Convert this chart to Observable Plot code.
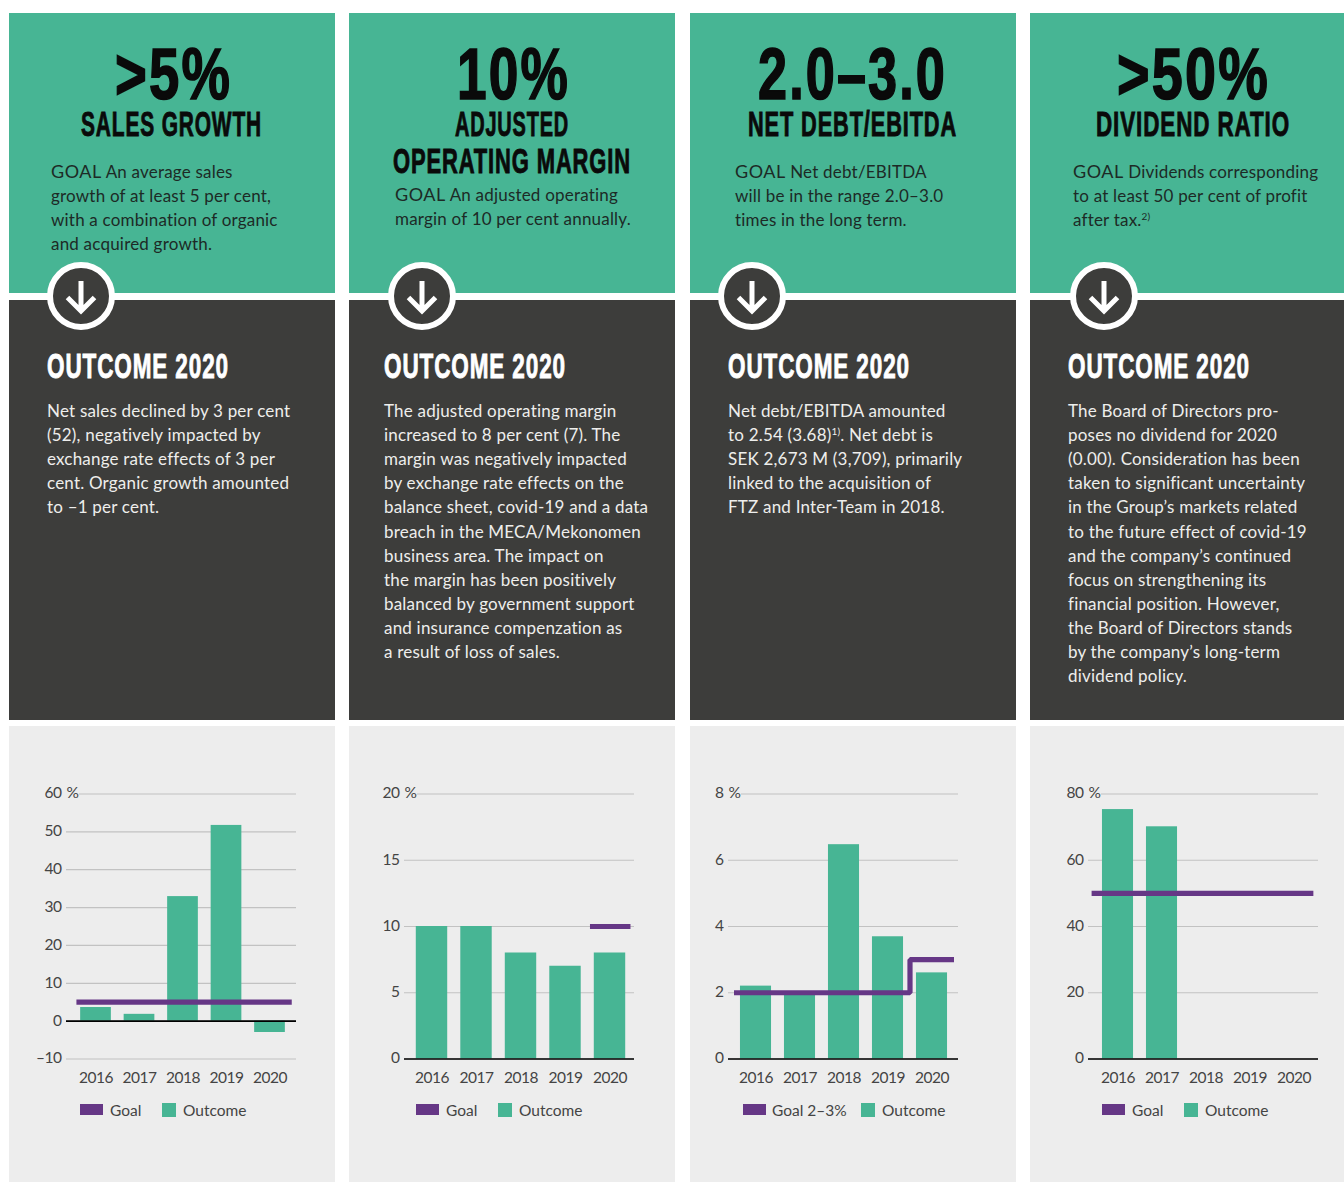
<!DOCTYPE html>
<html><head><meta charset="utf-8">
<script src="https://cdn.jsdelivr.net/npm/d3@7"></script>
<script src="https://cdn.jsdelivr.net/npm/@observablehq/plot@0.6"></script>
<style>
html,body{margin:0;padding:0;background:#fff;}
#page{position:relative;width:1344px;height:1182px;overflow:hidden;font-family:Lato,sans-serif;}
.box{position:absolute;}
.t{position:absolute;white-space:nowrap;}
.head{font-family:"Liberation Sans Narrow","Liberation Sans",sans-serif;font-weight:700;color:#0a0a0a;transform-origin:0 0;line-height:.8;letter-spacing:.04em;}
.body{font-size:17px;line-height:24px;font-weight:400;letter-spacing:.2px;}
.g{font-size:18px;letter-spacing:.5px;line-height:0;}
.leg{font-size:15.5px;line-height:16px;color:#444;font-weight:400;}
sup{font-size:10px;line-height:0;vertical-align:baseline;position:relative;top:-6px;}
svg{display:block}
</style></head><body><div id="page"></div>
<script>
const years = [2016, 2017, 2018, 2019, 2020];
const salesGrowth = [3.6, 1.8, 32.9, 51.7, -3];
const adjustedMargin = [10, 10, 8, 7, 8];
const netDebtEbitda = [2.2, 2.0, 6.47, 3.69, 2.6];
const dividendRatio = [75.3, 70.1, null, null, null];
const salesGoalX = [2015.55, 2020.5], salesGoalY = [5, 5];
const marginGoalX = [2019.55, 2020.46], marginGoalY = [10, 10];
const debtGoalX = [2015.5, 2019.5, 2019.5, 2020.5], debtGoalY = [2, 2, 3, 3];
const dividendGoalX = [2015.4, 2020.44], dividendGoalY = [50, 50];
const salesTicks = [-10, 0, 10, 20, 30, 40, 50, 60];
const marginTicks = [0, 5, 10, 15, 20];
const debtTicks = [0, 2, 4, 6, 8];
const dividendTicks = [0, 20, 40, 60, 80];

const GREEN = "#47b594", DARK = "#3d3d3b", LIGHT = "#ededed", PURPLE = "#663786";

const panels = [
 {left: 9, width: 326, circle: 81, values: salesGrowth, goalX: salesGoalX, goalY: salesGoalY, ticks: salesTicks,
  domain: [-10, 60], mL: 57, mR: 39, range: [86.5, 260.5], inset: 13,
  heads: [[">5%", 115, 232, 47, 53], ["SALES GROWTH", 81, 262, 112, 25]],
  goalLeft: 51, goalTop: 160, goalText: ["<span class=g>GOAL</span> An average sales", "growth of at least 5 per cent,", "with a combination of organic", "and acquired growth."],
  outLeft: 47, outcome: ["Net sales declined by 3 per cent", "(52), negatively impacted by", "exchange rate effects of 3 per", "cent. Organic growth amounted", "to –1 per cent."],
  legend: {sw: 80, goal: 110, sq: 162, out: 183, label: "Goal"}},
 {left: 349, width: 326, circle: 421.5, values: adjustedMargin, goalX: marginGoalX, goalY: marginGoalY, ticks: marginTicks,
  domain: [0, 20], mL: 55, mR: 41, range: [82.5, 260.5], inset: 13,
  heads: [["10%", 457, 570, 47, 53], ["ADJUSTED", 455, 569, 112, 25], ["OPERATING MARGIN", 393, 631, 149, 25]],
  goalLeft: 395, goalTop: 183, goalText: ["<span class=g>GOAL</span> An adjusted operating", "margin of 10 per cent annually."],
  outLeft: 384, outcome: ["The adjusted operating margin", "increased to 8 per cent (7). The", "margin was negatively impacted", "by exchange rate effects on the", "balance sheet, covid-19 and a data", "breach in the MECA/Mekonomen", "business area. The impact on", "the margin has been positively", "balanced by government support", "and insurance compenzation as", "a result of loss of sales."],
  legend: {sw: 416, goal: 446, sq: 498, out: 519, label: "Goal"}},
 {left: 690, width: 326, circle: 752, values: netDebtEbitda, goalX: debtGoalX, goalY: debtGoalY, ticks: debtTicks,
  domain: [0, 8], mL: 38, mR: 58, range: [65.5, 241.5], inset: 13,
  heads: [["2.0–3.0", 758, 947, 47, 53], ["NET DEBT/EBITDA", 748, 957, 112, 25]],
  goalLeft: 735, goalTop: 160, goalText: ["<span class=g>GOAL</span> Net debt/EBITDA", "will be in the range 2.0–3.0", "times in the long term."],
  outLeft: 728, outcome: ["Net debt/EBITDA amounted", "to 2.54 (3.68)<sup>1)</sup>. Net debt is", "SEK 2,673 M (3,709), primarily", "linked to the acquisition of", "FTZ and Inter-Team in 2018."],
  legend: {sw: 743, goal: 772, sq: 861, out: 882, label: "Goal 2–3%"}},
 {left: 1030, width: 314, circle: 1104, values: dividendRatio, goalX: dividendGoalX, goalY: dividendGoalY, ticks: dividendTicks,
  domain: [0, 80], mL: 58, mR: 26, range: [87.5, 263.5], inset: 13,
  heads: [[">50%", 1117, 1270, 47, 53], ["DIVIDEND RATIO", 1096, 1290, 112, 25]],
  goalLeft: 1073, goalTop: 160, goalText: ["<span class=g>GOAL</span> Dividends corresponding", "to at least 50 per cent of profit", "after tax.<sup>2)</sup>"],
  outLeft: 1068, outcome: ["The Board of Directors pro-", "poses no dividend for 2020", "(0.00). Consideration has been", "taken to significant uncertainty", "in the Group’s markets related", "to the future effect of covid-19", "and the company’s continued", "focus on strengthening its", "financial position. However,", "the Board of Directors stands", "by the company’s long-term", "dividend policy."],
  legend: {sw: 1102, goal: 1132, sq: 1184, out: 1205, label: "Goal"}}
];

const page = document.getElementById("page");
function box(l, t, w, h, bg) { const d = document.createElement("div"); d.className = "box"; d.style.cssText = `left:${l}px;top:${t}px;width:${w}px;height:${h}px;background:${bg}`; page.appendChild(d); return d; }
function text(cls, html, l, t, color) { const d = document.createElement("div"); d.className = "t " + cls; d.innerHTML = html; d.style.left = l + "px"; d.style.top = t + "px"; if (color) d.style.color = color; page.appendChild(d); return d; }
// condensed headline fitted to its measured span; cap height sets the size
function head(str, x0, x1, top, cap, color) {
  const size = cap / 0.729;
  const d = text("head", str, x0, 0, color);
  d.style.fontSize = size + "px";
  d.style.webkitTextStroke = (size > 50 ? 1.6 : 0.9) + "px " + color;
  d.style.top = (top - size * 0.03) + "px";
  d.style.transform = `scaleX(${(x1 - x0) / d.getBoundingClientRect().width})`;
}
const BAR_HALF = 0.353;

panels.forEach(p => {
  box(p.left, 13, p.width, 280, GREEN);
  box(p.left, 300, p.width, 420, DARK);
  box(p.left, 726, p.width, 456, LIGHT);
  p.heads.forEach(h => head(h[0], h[1], h[2], h[3], h[4], "#0a0a0a"));
  p.goalText.forEach((s, i) => text("body", s, p.goalLeft, p.goalTop + i * 24, "#1d2a26"));
  head("OUTCOME 2020", p.outLeft, p.outLeft + 182, 354, 25, "#fff");
  p.outcome.forEach((s, i) => text("body", s, p.outLeft, 399 + i * 24.1, "#eeeeec"));

  const ns = "http://www.w3.org/2000/svg";
  const icon = document.createElementNS(ns, "svg");
  icon.setAttribute("width", 70); icon.setAttribute("height", 70);
  icon.style.cssText = `position:absolute;left:${p.circle - 35}px;top:261px`;
  icon.innerHTML = `<circle cx="35" cy="35" r="31" fill="${DARK}" stroke="#fff" stroke-width="6"/><path d="M35 20V50M21.5 36.5L35 50L48.5 36.5" fill="none" stroke="#fff" stroke-width="5"/>`;
  page.appendChild(icon);

  const rows = years.map((y, i) => ({year: y, value: p.values[i]})).filter(d => d.value != null);
  const top = p.ticks[p.ticks.length - 1];
  const plot = Plot.plot({
    width: p.width, height: 374,
    marginLeft: p.mL, marginRight: p.mR, marginTop: 67.5, marginBottom: 41.5,
    style: {background: "transparent", fontFamily: "Lato, sans-serif", fontSize: "15.5px", letterSpacing: "-.5px", color: "#444"},
    x: {type: "linear", domain: [2016, 2020], range: p.range},
    y: {domain: p.domain, range: [332.5, 67.5]},
    marks: [
      Plot.ruleY(p.ticks.filter(t => t !== top), {stroke: "#c2c2c2", strokeWidth: 1.2}),
      Plot.ruleY([top], {stroke: "#c2c2c2", strokeWidth: 1.2, insetLeft: p.inset}),
      Plot.rectY(rows, {x1: d => d.year - BAR_HALF, x2: d => d.year + BAR_HALF, y1: 0, y2: "value", fill: GREEN}),
      Plot.ruleY([0], {stroke: "#000", strokeWidth: 1.6}),
      Plot.line(p.goalX, {x: p.goalX, y: p.goalY, stroke: PURPLE, strokeWidth: 5.2, strokeLinejoin: "miter", strokeLinecap: "butt"}),
      Plot.axisY({ticks: p.ticks, tickSize: 0, tickPadding: 5, dy: -0.5, label: null, fontVariant: "normal", fill: "#444", tickFormat: d => String(d).replace("-", "–")}),
      Plot.text([top], {y: d => d, frameAnchor: "left", dy: -0.5, text: () => "%", textAnchor: "start", fill: "#444"}),
      Plot.axisX({ticks: years, tickSize: 0, tickPadding: 13, label: null, fontVariant: "normal", fill: "#444", tickFormat: d => String(d)})
    ]
  });
  plot.style.position = "absolute"; plot.style.left = p.left + "px"; plot.style.top = "726px";
  page.appendChild(plot);

  box(p.legend.sw, 1104, 23, 11, PURPLE);
  box(p.legend.sq, 1103, 14, 14, GREEN);
  text("leg", p.legend.label, p.legend.goal, 1102);
  text("leg", "Outcome", p.legend.out, 1102);
});
</script></body></html>
